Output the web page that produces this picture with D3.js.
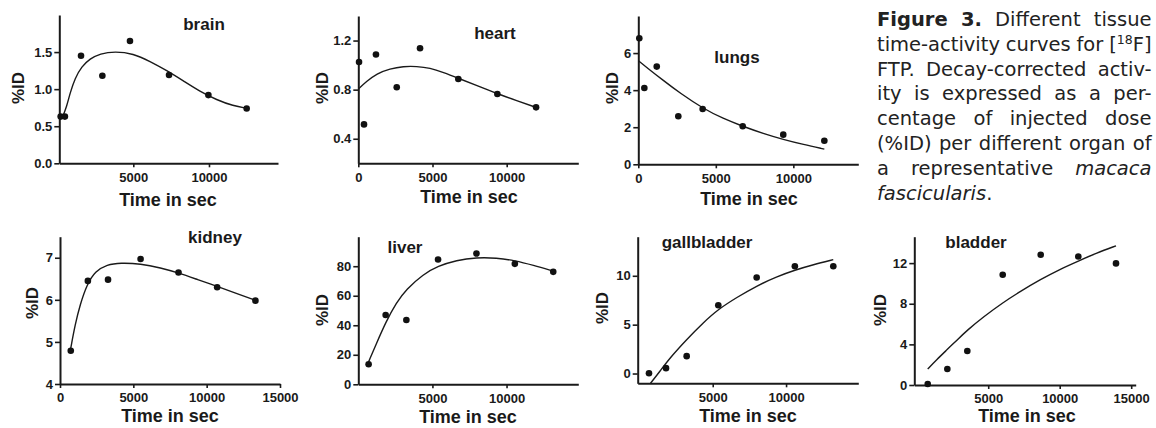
<!DOCTYPE html>
<html>
<head>
<meta charset="utf-8">
<script src="https://cdn.jsdelivr.net/npm/d3@7"></script>
<style>
  body { margin: 0; background: #fff; }
  svg { display: block; }
</style>
</head>
<body>
<svg id="fig" width="1156" height="428"></svg>
<script>
// values: time in sec, %ID
const brainT = [200, 480, 1545, 2955, 4780, 7360, 9960, 12490];
const brainY = [0.63, 0.63, 1.45, 1.18, 1.65, 1.19, 0.92, 0.74];
const brainFitT = [335, 599, 819, 1149, 1589, 2140, 2800, 3791, 5000, 6103, 7206, 8303, 9406, 10509, 11605, 12490];
const brainFitY = [0.63, 0.765, 0.946, 1.148, 1.306, 1.41, 1.48, 1.51, 1.48, 1.375, 1.252, 1.112, 0.968, 0.855, 0.774, 0.743];

const heartT = [50, 385, 1190, 2590, 4160, 6740, 9370, 11980];
const heartY = [1.025, 0.517, 1.086, 0.82, 1.137, 0.887, 0.765, 0.656];
const heartFitT = [0, 566, 1240, 2136, 3032, 3935, 4831, 5728, 6739, 7978, 9367, 10674, 11975];
const heartFitY = [0.805, 0.868, 0.931, 0.971, 0.99, 0.99, 0.977, 0.941, 0.893, 0.833, 0.767, 0.71, 0.656];

const lungsT = [65, 390, 1190, 2580, 4150, 6735, 9350, 12000];
const lungsY = [6.8, 4.12, 5.27, 2.59, 2.98, 2.05, 1.6, 1.27];
const lungsFitT = [0, 538, 1613, 2690, 4155, 5484, 6735, 8065, 9355, 10645, 12000];
const lungsFitY = [5.59, 5.23, 4.52, 3.84, 3.02, 2.46, 2.05, 1.66, 1.34, 1.07, 0.82];

const kidneyT = [735, 1900, 3275, 5495, 8080, 10715, 13325];
const kidneyY = [4.79, 6.45, 6.48, 6.97, 6.65, 6.30, 5.98];
const kidneyFitT = [733, 1030, 1374, 1831, 2404, 3205, 4121, 5495, 6868, 8081, 9386, 10714, 12019, 13324];
const kidneyFitY = [4.85, 5.41, 5.89, 6.36, 6.68, 6.84, 6.88, 6.86, 6.76, 6.64, 6.48, 6.32, 6.15, 5.99];

const liverT = [696, 1845, 3243, 5380, 7970, 10560, 13150];
const liverY = [13.6, 47, 43.6, 84.6, 88.6, 81.6, 76.2];
const liverFitT = [695, 1216, 1845, 2568, 3243, 4365, 5378, 6622, 7973, 9324, 10561, 11797, 13149];
const liverFitY = [15.2, 27.5, 42, 55.4, 64.4, 74.5, 80.1, 84.1, 85.9, 85.6, 83.9, 80.7, 76.7];

const gallT = [655, 1815, 3225, 5380, 7995, 10600, 13220];
const gallY = [0.03, 0.55, 1.78, 6.99, 9.83, 10.97, 10.97];
const gallFitT = [760, 1404, 2086, 3224, 4356, 5378, 6633, 7995, 9359, 10607, 11854, 13218];
const gallFitY = [-1.0, 0.24, 1.61, 3.49, 5.21, 6.58, 7.78, 8.97, 9.9, 10.59, 11.13, 11.65];

const bladderT = [769, 2140, 3538, 6014, 8671, 11301, 13937];
const bladderY = [0.1, 1.58, 3.35, 10.85, 12.82, 12.65, 11.97];
const bladderFitT = [769, 1399, 2140, 2797, 3538, 4658, 6014, 7224, 8671, 10021, 11301, 12587, 13937];
const bladderFitY = [1.58, 2.5, 3.5, 4.4, 5.4, 6.7, 8.1, 9.2, 10.4, 11.4, 12.2, 13.0, 13.7];

const captionLines = [
  "**Figure** **3.** Different tissue",
  "time-activity curves for [^18^F]",
  "FTP. Decay-corrected activ-",
  "ity is expressed as a per-",
  "centage of injected dose",
  "(%ID) per different organ of",
  "a representative _macaca_",
  "_fascicularis_."
];

const panels = [
  { name: "brain", t: brainT, y: brainY, ft: brainFitT, fy: brainFitY,
    xDom: [110, 14560], yDom: [0, 2], xTicks: [5000, 10000], yTicks: [0, 0.5, 1, 1.5], yFmt: ".1f",
    box: [59.3, 278, 15, 163.3], title: [204, 30], xt: [168, 206], yt: [18, 88] },
  { name: "heart", t: heartT, y: heartY, ft: heartFitT, fy: heartFitY,
    xDom: [0, 14825], yDom: [0.2, 1.4], xTicks: [0, 5000, 10000], yTicks: [0.4, 0.8, 1.2], yFmt: ".1f",
    box: [358.3, 578.3, 16, 163.3], title: [495, 39], xt: [469, 203], yt: [322, 88] },
  { name: "lungs", t: lungsT, y: lungsY, ft: lungsFitT, fy: lungsFitY,
    xDom: [0, 14190], yDom: [0, 8], xTicks: [0, 5000, 10000], yTicks: [0, 2, 4, 6], yFmt: "d",
    box: [638.3, 858.3, 16, 164.3], title: [737, 63], xt: [749, 205], yt: [612, 88] },
  { name: "kidney", t: kidneyT, y: kidneyY, ft: kidneyFitT, fy: kidneyFitY,
    xDom: [0, 15000], yDom: [4, 7.5], xTicks: [0, 5000, 10000, 15000], yTicks: [4, 5, 6, 7], yFmt: "d",
    box: [60, 280, 236.7, 384], title: [215, 243], xt: [170, 422], yt: [32, 303] },
  { name: "liver", t: liverT, y: liverY, ft: liverFitT, fy: liverFitY,
    xDom: [0, 14840], yDom: [0, 100], xTicks: [5000, 10000], yTicks: [0, 20, 40, 60, 80], yFmt: "d",
    box: [358.3, 578.3, 236.7, 384.3], title: [405, 253], xt: [468, 423], yt: [322, 310] },
  { name: "gallbladder", t: gallT, y: gallY, ft: gallFitT, fy: gallFitY,
    xDom: [-115, 14925], yDom: [-1, 14], xTicks: [5000, 10000], yTicks: [0, 5, 10], yFmt: "d",
    box: [637.7, 858.3, 236.7, 383.3], title: [707, 248], xt: [748, 422], yt: [602, 308] },
  { name: "bladder", t: bladderT, y: bladderY, ft: bladderFitT, fy: bladderFitY,
    xDom: [-170, 15315], yDom: [0, 14.6], xTicks: [5000, 10000, 15000], yTicks: [0, 4, 8, 12], yFmt: "d",
    box: [914.3, 1135.7, 236.7, 385], title: [976, 248], xt: [1027, 422], yt: [880, 310] }
];

const ink = "#1a1a1a";
const panelFont = "'Liberation Sans', Arial, sans-serif";
const svg = d3.select("#fig");

panels.forEach(p => {
  const [l, r, top, bot] = p.box;
  const x = d3.scaleLinear().domain(p.xDom).range([l, r]);
  const y = d3.scaleLinear().domain(p.yDom).range([bot, top]);
  const g = svg.append("g").attr("class", "panel-" + p.name);

  const xAxis = g.append("g").attr("transform", `translate(0,${bot})`)
    .call(d3.axisBottom(x).tickValues(p.xTicks).tickFormat(d3.format("d"))
      .tickSize(4).tickSizeOuter(0).tickPadding(5));
  const yAxis = g.append("g").attr("transform", `translate(${l},0)`)
    .call(d3.axisLeft(y).tickValues(p.yTicks).tickFormat(d3.format(p.yFmt))
      .tickSize(5).tickSizeOuter(0).tickPadding(2));

  [xAxis, yAxis].forEach(a => {
    a.attr("font-family", panelFont).attr("font-size", 13).attr("font-weight", "bold");
    a.select(".domain").attr("stroke", ink).attr("stroke-width", 2);
    a.selectAll(".tick line").attr("stroke", ink).attr("stroke-width", 1.6);
    a.selectAll(".tick text").attr("fill", ink);
  });

  // fitted curve, smoothed through the read samples
  const fit = p.ft.map((t, i) => [t, p.fy[i]]);
  g.append("path")
    .datum(fit)
    .attr("d", d3.line().x(d => x(d[0])).y(d => y(d[1])).curve(d3.curveBasis))
    .attr("fill", "none").attr("stroke", ink).attr("stroke-width", 1.4);

  g.selectAll("circle").data(p.t.map((t, i) => [t, p.y[i]])).enter()
    .append("circle")
    .attr("cx", d => x(d[0])).attr("cy", d => y(d[1])).attr("r", 3.3)
    .attr("fill", "#111");

  g.append("text").attr("x", p.title[0]).attr("y", p.title[1])
    .attr("text-anchor", "middle").attr("font-family", panelFont)
    .attr("font-size", 17).attr("font-weight", "bold").attr("fill", ink)
    .text(p.name);

  g.append("text").attr("x", p.xt[0]).attr("y", p.xt[1])
    .attr("text-anchor", "middle").attr("font-family", panelFont)
    .attr("font-size", 18).attr("font-weight", "bold").attr("fill", ink)
    .text("Time in sec");

  g.append("text")
    .attr("transform", `translate(${p.yt[0]},${p.yt[1]}) rotate(-90)`)
    .attr("text-anchor", "middle").attr("dy", "0.35em")
    .attr("font-family", panelFont).attr("font-size", 17).attr("font-weight", "bold")
    .attr("fill", ink).text("%ID");
});

// caption, justified word by word
const capLeft = 877, capRight = 1151.5, capTop = 26, capStep = 24.8;
const cap = svg.append("g").attr("font-family", "'DejaVu Sans', sans-serif")
  .attr("font-size", 19.5).attr("fill", "#222");

function runs(word) {
  return word.match(/\*\*[^*]+\*\*|_[^_]+_|\^[^^]+\^|[^*_^]+/g).map(s => {
    if (s.startsWith("**")) return { s: s.slice(2, -2), style: "bold" };
    if (s.startsWith("_")) return { s: s.slice(1, -1), style: "italic" };
    if (s.startsWith("^")) return { s: s.slice(1, -1), style: "sup" };
    return { s: s, style: "" };
  });
}

captionLines.forEach((line, li) => {
  const by = capTop + li * capStep;
  const words = line.split(" ").map(w => {
    const t = cap.append("text").attr("y", by);
    let raised = false;
    runs(w).forEach(run => {
      const ts = t.append("tspan").text(run.s);
      if (run.style === "bold") ts.attr("font-weight", "bold");
      if (run.style === "italic") ts.attr("font-style", "italic");
      if (run.style === "sup") { ts.attr("font-size", 12.5).attr("dy", -7); raised = true; }
      else if (raised) { ts.attr("dy", 7); raised = false; }
    });
    return { node: t, w: t.node().getComputedTextLength() };
  });
  const total = d3.sum(words, d => d.w);
  const last = li === captionLines.length - 1;
  const gap = (last || words.length < 2) ? 6 : (capRight - capLeft - total) / (words.length - 1);
  let cx = capLeft;
  words.forEach(d => { d.node.attr("x", cx); cx += d.w + gap; });
});
</script>
</body>
</html>
